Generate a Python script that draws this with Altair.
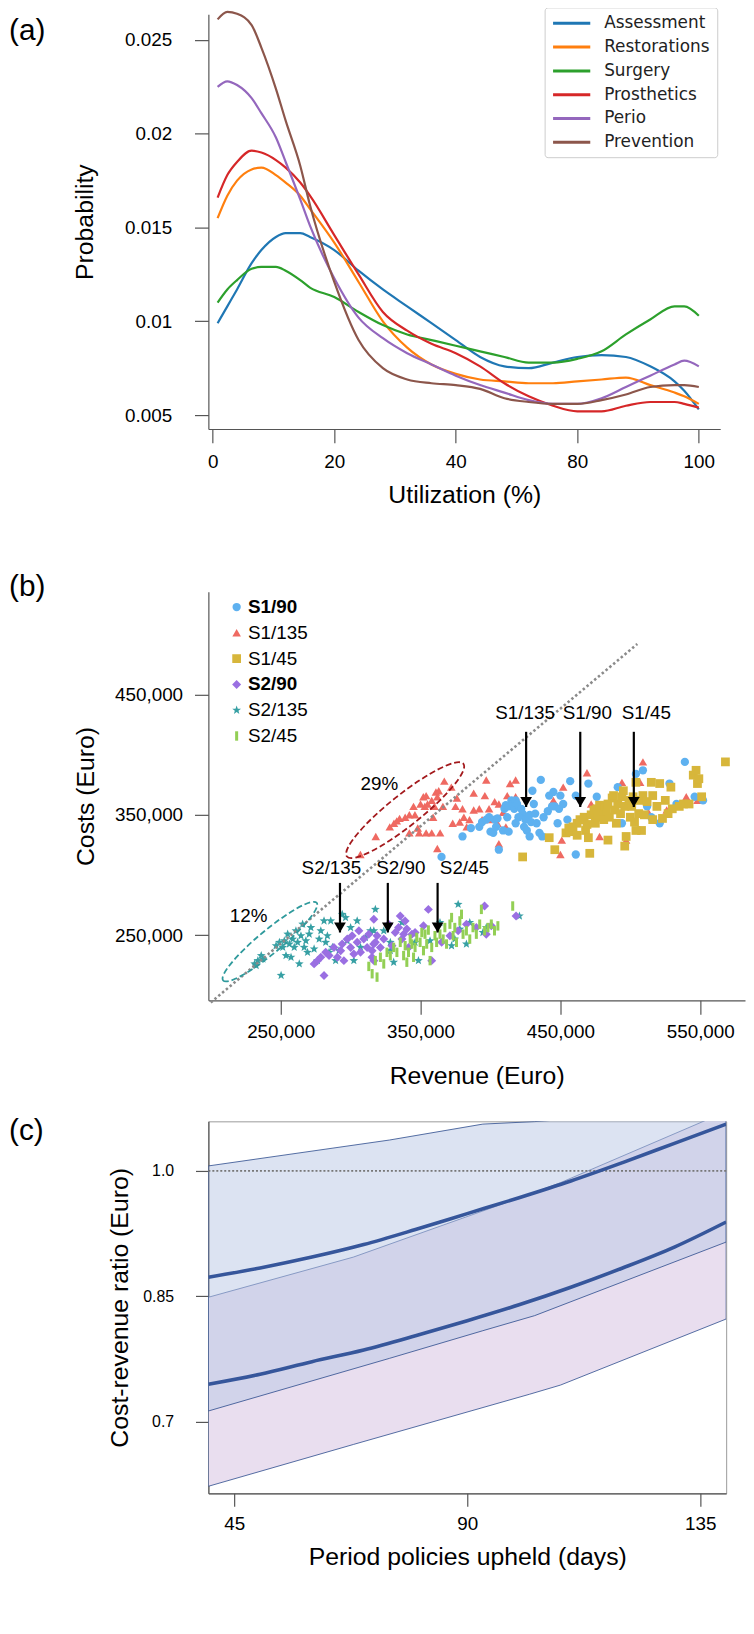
import altair as alt
import pandas as pd

FONT = "Liberation Sans, Arial, Helvetica, sans-serif"

# ---------------- Panel (a): utilization densities ----------------
util = [1, 3, 5, 8, 10, 13, 15, 18, 20, 25, 30, 35, 40, 45, 50, 55, 60, 65, 70, 75, 80, 85, 90, 95, 97, 100]
assessment = [0.0099, 0.0108, 0.0117, 0.0131, 0.0138, 0.0145, 0.0147, 0.0147, 0.0145, 0.0138, 0.0127, 0.0117, 0.0108,
              0.0099, 0.0090, 0.0081, 0.0076, 0.0075, 0.0078, 0.0081, 0.0082, 0.0081, 0.0076, 0.0068, 0.0063, 0.0053]
restorations = [0.0155, 0.0167, 0.0175, 0.0181, 0.0182, 0.0178, 0.0174, 0.0167, 0.0160, 0.0142, 0.0121, 0.0100, 0.0086,
                0.0077, 0.0072, 0.0069, 0.0068, 0.0067, 0.0067, 0.0068, 0.0069, 0.0070, 0.0066, 0.0062, 0.0060, 0.0056]
surgery = [0.0110, 0.0117, 0.0122, 0.0128, 0.0129, 0.0129, 0.0127, 0.0122, 0.0118, 0.0113, 0.0105, 0.0098, 0.0093,
           0.0090, 0.0087, 0.0084, 0.0081, 0.0078, 0.0078, 0.0080, 0.0084, 0.0093, 0.0101, 0.0108, 0.0108, 0.0103]
prosthetics = [0.0166, 0.0178, 0.0185, 0.0191, 0.0190, 0.0186, 0.0182, 0.0174, 0.0167, 0.0146, 0.0125, 0.0105, 0.0095,
               0.0088, 0.0083, 0.0076, 0.0067, 0.0060, 0.0055, 0.0052, 0.0052, 0.0055, 0.0057, 0.0057, 0.0056, 0.0054]
perio = [0.0225, 0.0228, 0.0226, 0.0219, 0.0211, 0.0198, 0.0185, 0.0165, 0.0151, 0.0123, 0.0102, 0.0091, 0.0083,
         0.0077, 0.0071, 0.0066, 0.0062, 0.0058, 0.0056, 0.0056, 0.0059, 0.0065, 0.0071, 0.0077, 0.0079, 0.0076]
prevention = [0.0261, 0.0265, 0.0264, 0.0258, 0.0246, 0.0224, 0.0207, 0.0183, 0.0162, 0.0121, 0.0090, 0.0075, 0.0069,
              0.0067, 0.0066, 0.0064, 0.0059, 0.0057, 0.0056, 0.0056, 0.0058, 0.0061, 0.0065, 0.0066, 0.0066, 0.0065]
names_a = ["Assessment", "Restorations", "Surgery", "Prosthetics", "Perio", "Prevention"]
colors_a = ["#1f77b4", "#ff7f0e", "#2ca02c", "#d62728", "#9467bd", "#8c564b"]
xticks_a = [0, 25, 50, 75, 100]
yticks_a = [0.005, 0.01, 0.015, 0.02, 0.025]

# ---------------- Panel (b): revenue vs costs (thousand Euro) ----------------
groups_b = ["S1/90", "S1/135", "S1/45", "S2/90", "S2/135", "S2/45"]
colors_b = ["#5eb1f0", "#ef6a62", "#d7b63b", "#9a6fe2", "#37a0a4", "#93cf55"]
star_path = "M0,-1L0.247,-0.34L0.951,-0.309L0.4,0.13L0.588,0.809L0,0.42L-0.588,0.809L-0.4,0.13L-0.951,-0.309L-0.247,-0.34Z"
bar_path = "M-0.32,-1L0.32,-1L0.32,1L-0.32,1Z"
shapes_b = ["circle", "triangle-up", "square", "diamond", star_path, bar_path]
sizes_b = [70, 90, 64, 80, 120, 140]

s1_135 = [(307, 317), (318, 332), (328, 340), (331, 343), (333, 345), (335, 347), (339, 348), (342, 350), (345, 357),
          (346, 350), (348, 339), (350, 359), (352, 365), (353, 357), (354, 366), (355, 359), (358, 362), (359, 348),
          (360, 357), (361, 369), (362, 365), (363, 370), (366, 357), (367, 378), (354, 335), (358, 335), (364, 335),
          (362, 322), (349, 335), (342, 335), (372, 373), (375, 357), (376, 364), (380, 355), (381, 348), (383, 340),
          (385, 346), (388, 368), (388, 354), (392, 355), (394, 346), (396, 366), (397, 379), (399, 355), (400, 346),
          (403, 361), (405, 343), (406, 359), (409, 352), (411, 340), (412, 366), (414, 376), (418, 379), (406, 326),
          (418, 365), (373, 343), (378, 344), (445, 362), (452, 373), (469, 385), (472, 359), (478, 332), (494, 377),
          (497, 329), (507, 377), (509, 394), (513, 352), (526, 354), (540, 365), (548, 362), (450, 317), (451, 329)]
s1_90 = [(365, 315), (380, 332), (386, 339), (392, 340), (394, 344), (397, 346), (399, 348), (400, 336), (402, 335),
         (403, 346), (404, 340), (405, 347), (406, 321), (409, 337), (410, 355), (411, 358), (412, 348), (413, 357),
         (415, 362), (416, 359), (417, 355), (418, 362), (419, 359), (422, 355), (423, 351), (424, 340), (425, 346),
         (426, 337), (428, 350), (429, 344), (430, 370), (431, 359), (432, 351), (433, 343), (435, 335), (436, 379),
         (428, 332), (413, 336), (418, 343), (420, 348), (438, 348), (442, 366), (445, 369), (446, 357), (448, 343),
         (450, 366), (452, 359), (455, 346), (457, 378), (461, 366), (470, 376), (476, 365), (481, 348), (491, 373),
         (494, 343), (504, 384), (509, 387), (512, 357), (515, 348), (521, 343), (528, 376), (533, 359), (539, 394),
         (546, 365), (552, 362), (461, 317), (437, 332), (441, 353), (444, 357), (449, 355)]
s1_45 = [(442, 331), (446, 321), (454, 335), (456, 339), (457, 336), (459, 340), (462, 343), (464, 346), (467, 348),
         (468, 337), (469, 342), (470, 331), (471, 318), (472, 350), (474, 354), (475, 343), (476, 355), (477, 348),
         (478, 358), (480, 351), (481, 346), (482, 357), (483, 353), (484, 359), (485, 348), (487, 364), (488, 366),
         (489, 354), (490, 343), (491, 359), (493, 351), (494, 365), (495, 370), (496, 357), (497, 332), (499, 362),
         (500, 348), (501, 357), (502, 365), (503, 344), (504, 377), (506, 351), (507, 362), (508, 337), (509, 366),
         (510, 350), (512, 361), (515, 377), (516, 366), (519, 357), (521, 376), (523, 347), (525, 362), (527, 351),
         (529, 373), (530, 355), (535, 357), (538, 359), (542, 359), (545, 383), (547, 387), (548, 376), (551, 365),
         (568, 394), (549, 380), (516, 346), (496, 324), (504, 337), (484, 329), (462, 333), (423, 315)]
s2_135 = [(231.4, 226.1), (233.7, 228.8), (236.1, 233.0), (237.3, 230.2), (232.5, 224.7), (246.7, 241.2), (249.1, 244.0),
          (250.3, 216.5), (251.5, 239.8), (252.6, 245.3), (253.8, 233.0), (255.0, 250.8), (256.2, 242.6), (257.4, 231.6),
          (258.6, 246.7), (259.7, 239.8), (260.9, 253.6), (262.1, 244.0), (263.3, 226.1), (264.5, 249.5), (265.7, 259.1),
          (266.8, 239.8), (268.0, 245.3), (269.2, 235.7), (270.4, 250.8), (271.6, 256.3), (273.9, 238.5), (276.3, 228.8),
          (277.5, 246.7), (278.7, 253.6), (281.0, 261.8), (282.2, 244.0), (283.4, 249.5), (284.6, 235.7), (285.8, 261.8),
          (287.0, 239.8), (289.3, 228.8), (291.7, 237.1), (294.0, 267.3), (296.4, 264.6), (297.6, 245.3), (300.0, 256.3),
          (302.3, 228.8), (304.7, 261.8), (307.1, 239.8), (310.6, 248.1), (314.2, 253.6), (317.7, 271.4), (316.6, 253.6),
          (323.7, 253.6), (328.4, 244.0), (330.8, 227.5), (336.7, 260.5), (346.1, 244.0), (348.5, 228.8), (356.8, 245.3),
          (363.9, 260.5), (374.5, 246.7), (376.9, 275.6), (378.1, 255.0), (382.8, 242.6), (385.2, 260.5), (394.6, 252.2),
          (397.0, 256.3), (420.7, 265.9), (372.2, 241.2), (328.4, 237.1)]
s2_90 = [(273.9, 226.1), (276.3, 228.8), (278.7, 231.6), (281.0, 216.5), (282.2, 235.7), (284.6, 233.0), (288.1, 239.8),
         (290.5, 231.6), (292.9, 237.1), (294.0, 242.6), (295.2, 228.8), (297.6, 246.7), (300.0, 239.8), (301.1, 249.5),
         (302.3, 234.3), (304.7, 244.0), (305.9, 253.6), (307.1, 235.7), (309.4, 246.7), (311.8, 239.8), (313.0, 250.8),
         (315.3, 231.6), (316.5, 242.6), (316.6, 263.2), (317.7, 244.0), (315.4, 237.1), (318.9, 249.5), (321.3, 239.8),
         (323.7, 246.7), (327.2, 259.1), (329.6, 241.2), (331.9, 252.2), (334.3, 256.3), (335.5, 265.9), (336.7, 246.7),
         (337.9, 250.8), (339.0, 261.8), (340.2, 255.0), (341.4, 239.8), (343.8, 250.8), (346.1, 252.2), (352.1, 257.7),
         (355.6, 271.4), (358.0, 228.8), (365.1, 244.0), (371.0, 249.5), (376.9, 253.6), (382.8, 259.1), (389.9, 256.3),
         (395.8, 274.2), (397.0, 250.8), (400.6, 257.7), (418.3, 265.9), (316.6, 228.8)]
s2_45 = [(315.4, 217.9), (317.7, 228.8), (321.3, 231.6), (323.7, 226.1), (326.0, 235.7), (328.4, 233.0), (330.8, 239.8),
         (333.1, 235.7), (335.5, 244.0), (337.9, 233.0), (339.0, 241.2), (340.2, 227.5), (341.4, 235.7), (342.6, 246.7),
         (343.8, 242.6), (345.0, 231.6), (346.1, 239.8), (347.3, 248.1), (349.7, 244.0), (350.9, 252.2), (352.1, 237.1),
         (353.2, 250.8), (354.4, 242.6), (355.6, 254.2), (356.8, 228.8), (358.0, 239.8), (360.3, 249.5), (361.5, 244.0),
         (363.9, 250.8), (366.2, 246.7), (367.4, 256.3), (368.6, 242.6), (371.0, 259.1), (372.2, 264.6), (373.3, 249.5),
         (374.5, 256.3), (375.7, 244.0), (378.1, 261.8), (379.3, 267.3), (380.4, 250.8), (382.8, 253.6), (385.2, 246.7),
         (387.5, 256.3), (389.9, 250.8), (392.3, 259.1), (393.5, 271.4), (395.8, 253.6), (398.2, 256.3), (400.6, 259.1),
         (402.9, 253.6), (405.3, 257.7), (415.9, 274.2), (318.9, 215.1), (313.0, 224.0)]

# break-even diagonal (thousand Euro)
diag_rev = [200, 505]
diag_cost = [194, 492]
# arrows and labels
arrow_labels = ["S1/135", "S1/90", "S1/45", "S2/135", "S2/90", "S2/45"]
arrow_rev = [425.5, 464.2, 502.5, 292.4, 326.6, 362.2]
arrow_top = [419, 419, 419, 293.4, 293.4, 293.4]
arrow_tip = [356.5, 356.5, 356.5, 252.2, 252.2, 252.2]
label_rev = [424.8, 469.3, 511.4, 286.3, 335.9, 381.4]
label_cost = [434.3, 434.3, 434.3, 305.8, 305.8, 305.8]
# ellipse annotations
ell_rev = [339.0, 242.3]
ell_cost = [353.9, 244.6]
pct_text = ["29%", "12%"]
pct_rev = [320.5, 227.1]
pct_cost = [375.8, 265.9]

# ---------------- Panel (c): cost-revenue ratio bands ----------------
band1_x = [40, 75, 93, 103, 140]
band1_low = [0.713, 0.776, 0.809, 0.827, 0.915]
band1_high = [1.006, 1.037, 1.056, 1.059, 1.075]
band2_x = [40, 68, 102, 108, 140]
band2_low = [0.623, 0.673, 0.733, 0.744, 0.823]
band2_high = [0.849, 0.897, 0.972, 0.986, 1.071]
mid_x = [40, 50, 60, 70, 80, 90, 100, 110, 120, 130, 140]
mid1 = [0.873, 0.884, 0.897, 0.912, 0.930, 0.949, 0.968, 0.988, 1.010, 1.033, 1.056]
mid2 = [0.745, 0.757, 0.772, 0.786, 0.803, 0.821, 0.840, 0.861, 0.884, 0.909, 0.939]

# ================= build panel (a) =================
rows = []
for name, vals in zip(names_a, [assessment, restorations, surgery, prosthetics, perio, prevention]):
    for u, p in zip(util, vals):
        rows.append({"Utilization": u, "Probability": p, "Service": name})
df_a = pd.DataFrame(rows)

legend_a = alt.Legend(title=None, orient="none", legendX=339, legendY=-7, direction="vertical",
                      symbolType="M-1,0L4,0", symbolSize=225, symbolStrokeWidth=3,
                      labelFont="DejaVu Sans", labelFontSize=17, labelOffset=35, padding=7,
                      strokeColor="#cccccc", fillColor="white", cornerRadius=3, rowPadding=7,
                      labelColor="#222222")

lines_a = alt.Chart(df_a).mark_line(strokeWidth=2.2, interpolate="monotone").encode(
    x=alt.X("Utilization:Q", scale=alt.Scale(domain=[-0.9, 104.4], nice=False, zero=False),
            axis=alt.Axis(values=xticks_a, title="Utilization (%)", labelPadding=10, titlePadding=11,
                          labelExpr="datum.value == 25 ? '20' : datum.value == 50 ? '40' : datum.value == 75 ? '80' : datum.label")),
    y=alt.Y("Probability:Q", scale=alt.Scale(domain=[0.00426, 0.02637], nice=False, zero=False),
            axis=alt.Axis(values=yticks_a, format=".3~f", title="Probability", labelPadding=23, titlePadding=27)),
    color=alt.Color("Service:N", scale=alt.Scale(domain=names_a, range=colors_a), legend=legend_a),
)
tag_a = alt.Chart(pd.DataFrame({"t": ["(a)"]})).mark_text(
    font=FONT, fontSize=30, align="left", baseline="middle", color="black").encode(
    x=alt.value(-201), y=alt.value(17), text="t:N")
panel_a = alt.layer(lines_a, tag_a).properties(
    width=516, height=418, view=alt.ViewBackground(stroke="transparent"))

# ================= build panel (b) =================
rows = []
for g, pts in [("S1/135", s1_135), ("S1/90", s1_90), ("S1/45", s1_45),
               ("S2/135", s2_135), ("S2/90", s2_90), ("S2/45", s2_45)]:
    for r, c in pts:
        rows.append({"Revenue": r * 1000, "Costs": c * 1000, "Scenario": g})
df_b = pd.DataFrame(rows)


def xb(field="Revenue"):
    return alt.X(f"{field}:Q", scale=alt.Scale(domain=[198300, 582000], nice=False, zero=False),
                 axis=alt.Axis(values=[250000, 350000, 450000, 550000], format=",.0f", title="Revenue (Euro)",
                               labelPadding=8, titlePadding=23))


def yb(field="Costs"):
    return alt.Y(f"{field}:Q", scale=alt.Scale(domain=[195800, 535500], nice=False, zero=False),
                 axis=alt.Axis(values=[250000, 350000, 450000], format=",.0f", title="Costs (Euro)",
                               labelPadding=12, titlePadding=16))


legend_b = alt.Legend(title=None, orient="none", legendX=19, legendY=6, symbolSize=200,
                      labelFont=FONT, labelFontSize=19, labelOffset=2, rowPadding=6, padding=0,
                      symbolStrokeWidth=0, symbolOpacity=1, labelColor="black",
                      labelFontWeight={"expr": "(datum.label == 'S1/90' || datum.label == 'S2/90') ? 'bold' : 'normal'"})

scatter_b = alt.Chart(df_b).mark_point(filled=True, opacity=1, strokeWidth=0).encode(
    x=xb(), y=yb(),
    color=alt.Color("Scenario:N", scale=alt.Scale(domain=groups_b, range=colors_b), legend=legend_b),
    shape=alt.Shape("Scenario:N", scale=alt.Scale(domain=groups_b, range=shapes_b), legend=legend_b),
    size=alt.Size("Scenario:N", scale=alt.Scale(domain=groups_b, range=sizes_b), legend=None),
)

df_diag = pd.DataFrame({"Revenue": [v * 1000 for v in diag_rev], "Costs": [v * 1000 for v in diag_cost]})
diag_b = alt.Chart(df_diag).mark_line(color="#8a8a8a", strokeWidth=2.6, strokeDash=[2.5, 2.5]).encode(
    x=xb(), y=yb())

df_ell = pd.DataFrame({"Revenue": [v * 1000 for v in ell_rev], "Costs": [v * 1000 for v in ell_cost]})
ell_red = alt.Chart(df_ell.iloc[[0]]).mark_point(
    shape="M-1,0A1,0.21,0,1,0,1,0A1,0.21,0,1,0,-1,0", size=22500, angle=321.5, filled=False,
    stroke="#a3191c", strokeWidth=1.8, strokeDash=[6, 3], opacity=1).encode(x=xb(), y=yb())
ell_teal = alt.Chart(df_ell.iloc[[1]]).mark_point(
    shape="M-1,0A1,0.19,0,1,0,1,0A1,0.19,0,1,0,-1,0", size=15030, angle=320.3, filled=False,
    stroke="#2f9a9c", strokeWidth=1.8, strokeDash=[6, 3], opacity=1).encode(x=xb(), y=yb())

df_arrow = pd.DataFrame({"Revenue": [v * 1000 for v in arrow_rev],
                         "Top": [v * 1000 for v in arrow_top],
                         "Tip": [v * 1000 for v in arrow_tip]})
shaft_b = alt.Chart(df_arrow).mark_rule(color="black", strokeWidth=2.2).encode(
    x=xb(), y=yb("Top"), y2="Tip:Q")
head_b = alt.Chart(df_arrow).mark_point(shape="triangle-down", filled=True, color="black", size=140,
                                        opacity=1, yOffset=-5).encode(x=xb(), y=yb("Tip"))

df_lab = pd.DataFrame({"Revenue": [v * 1000 for v in label_rev], "Costs": [v * 1000 for v in label_cost],
                       "Label": arrow_labels})
lab_b = alt.Chart(df_lab).mark_text(font=FONT, fontSize=19, color="black", baseline="middle").encode(
    x=xb(), y=yb(), text="Label:N")

df_pct = pd.DataFrame({"Revenue": [v * 1000 for v in pct_rev], "Costs": [v * 1000 for v in pct_cost],
                       "Label": pct_text})
pct_b = alt.Chart(df_pct).mark_text(font=FONT, fontSize=19, color="black", baseline="middle").encode(
    x=xb(), y=yb(), text="Label:N")

tag_b = alt.Chart(pd.DataFrame({"t": ["(b)"]})).mark_text(
    font=FONT, fontSize=30, align="left", baseline="middle", color="black").encode(
    x=alt.value(-201), y=alt.value(-5), text="t:N")
spacer_b = alt.Chart(pd.DataFrame({"t": ["s"]})).mark_rule(strokeOpacity=0).encode(
    x=alt.value(0), y=alt.value(-57), y2=alt.value(0))

panel_b = alt.layer(scatter_b, diag_b, ell_red, ell_teal, shaft_b, head_b, lab_b, pct_b, tag_b, spacer_b).properties(
    width=541, height=412, view=alt.ViewBackground(stroke="transparent"))

# ================= build panel (c) =================


def xc(field="Days"):
    return alt.X(f"{field}:Q", scale=alt.Scale(domain=[40, 140], nice=False, zero=False),
                 axis=alt.Axis(values=[45, 90, 135], title="Period policies upheld (days)",
                               labelPadding=8, titlePadding=12, tickSize=13))


def yc(field="Ratio"):
    return alt.Y(f"{field}:Q", scale=alt.Scale(domain=[0.6146, 1.0593], nice=False, zero=False),
                 axis=alt.Axis(values=[0.7, 0.85, 1.0], title="Cost-revenue ratio (Euro)",
                               labelExpr="datum.value == 1 ? '1.0' : format(datum.value, '.2~f')",
                               labelFontSize=16, labelPadding=22, titlePadding=10, tickSize=13))


df_b1 = pd.DataFrame({"Days": band1_x, "Low": band1_low, "High": band1_high})
df_b2 = pd.DataFrame({"Days": band2_x, "Low": band2_low, "High": band2_high})
# lower (lavender) band drawn opaque first, upper (blue) band semi-transparent on top
band2 = alt.Chart(df_b2).mark_area(fill="#e9deef", stroke="#2b4a8c", strokeWidth=0.8,
                                   clip=True, opacity=1).encode(x=xc(), y=yc("Low"), y2="High:Q")
band1 = alt.Chart(df_b1).mark_area(fill="#b9c7e5", fillOpacity=0.5, stroke="#2b4a8c", strokeOpacity=1,
                                   strokeWidth=0.8, clip=True).encode(x=xc(), y=yc("Low"), y2="High:Q")
df_ref = pd.DataFrame({"Ratio": [1.0]})
ref_c = alt.Chart(df_ref).mark_rule(color="#777777", strokeWidth=1.8, strokeDash=[2, 2]).encode(y=yc())
rows = []
for name, vals in [("upper", mid1), ("lower", mid2)]:
    for d, r in zip(mid_x, vals):
        rows.append({"Days": d, "Ratio": r, "Line": name})
df_mid = pd.DataFrame(rows)
mid_c = alt.Chart(df_mid).mark_line(color="#36569b", strokeWidth=3.6, interpolate="monotone", clip=True).encode(
    x=xc(), y=yc(), detail="Line:N")
tag_c = alt.Chart(pd.DataFrame({"t": ["(c)"]})).mark_text(
    font=FONT, fontSize=30, align="left", baseline="middle", color="black").encode(
    x=alt.value(-201), y=alt.value(10), text="t:N")
panel_c = alt.layer(band2, band1, ref_c, mid_c, tag_c).properties(
    width=522, height=375, view=alt.ViewBackground(stroke="#9a9a9a", strokeWidth=1))

chart = alt.vconcat(panel_a, panel_b, panel_c, spacing=26).resolve_scale(
    color="independent", shape="independent", size="independent"
).properties(
    padding={"left": 0, "top": -8, "right": 0, "bottom": 5}, background="white"
).configure_axis(
    domainColor="#555555", tickColor="#555555", labelColor="black", titleColor="black",
    labelFont=FONT, titleFont=FONT, labelFontSize=19, titleFontSize=25, titleFontWeight="normal",
    grid=False, tickSize=14, domainWidth=1.2, tickWidth=1.2
)

chart.save("out.html", embed_options={"renderer": "svg", "actions": False})
